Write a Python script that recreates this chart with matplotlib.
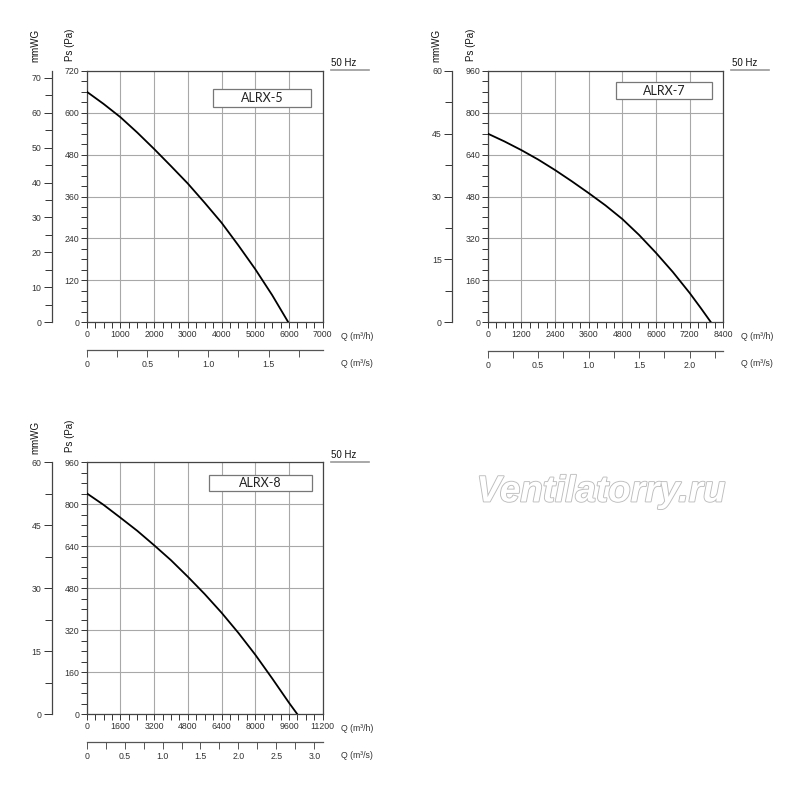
import matplotlib
matplotlib.use("Agg")
import matplotlib.pyplot as plt
from matplotlib.ticker import MultipleLocator, FixedLocator
from matplotlib.patches import Rectangle
import matplotlib.patheffects as pe

plt.rcParams['font.family'] = ['Liberation Sans', 'DejaVu Sans']

# ---------------- data ----------------
names = ["ALRX-5", "ALRX-7", "ALRX-8"]

q5 = [0, 500, 1000, 1500, 2000, 2500, 3000, 3500, 4000, 4500, 5000, 5500, 5980]
ps5 = [660, 625, 587, 543, 496, 447, 397, 342, 285, 220, 152, 78, 0]

q7 = [0, 600, 1200, 1800, 2400, 3000, 3600, 4200, 4800, 5400, 6000, 6600, 7200, 7600, 7960]
ps7 = [720, 690, 657, 621, 581, 538, 493, 446, 394, 333, 265, 192, 112, 54, 0]

q8 = [0, 800, 1600, 2400, 3200, 4000, 4800, 5600, 6400, 7200, 8000, 8800, 9600, 10000]
ps8 = [842, 798, 749, 699, 644, 587, 524, 458, 387, 310, 227, 137, 44, 0]

q_max = [7000, 8400, 11200]        # m3/h axis limit
q_step = [1000, 1200, 1600]
pa_max = [720, 960, 960]
pa_step = [120, 160, 160]
mm_max = [72, 60, 60]
mm_step = [10, 15, 15]
qs_labels = [[0, 0.5, 1.0, 1.5], [0, 0.5, 1.0, 1.5, 2.0], [0, 0.5, 1.0, 1.5, 2.0, 2.5, 3.0]]
freq_label = "50 Hz"
watermark = "Ventilatorry.ru"

W, H = 800, 789
fig = plt.figure(figsize=(W / 100, H / 100), dpi=100)
fig.patch.set_facecolor("white")


def fx(x):
    return x / W


def fy(y):
    return 1 - y / H


# layout (pixels): plot left, right, top, bottom, mmWG axis x, m3/s axis y, box
layouts = [
    dict(l=86.7, r=322.7, t=70.7, b=322.3, mm=51.7, qs=350.0,
         box=(0.535, 0.950, 0.856, 0.927)),
    dict(l=487.7, r=723.3, t=70.7, b=322.3, mm=452.3, qs=351.0,
         box=(0.543, 0.953, 0.886, 0.956)),
    dict(l=86.7, r=322.7, t=462.3, b=714.3, mm=51.7, qs=742.3,
         box=(0.519, 0.953, 0.885, 0.951)),
]
series = [(q5, ps5), (q7, ps7), (q8, ps8)]

tick_col = "#333333"
grid_col = "#a8a8a8"

for i, L in enumerate(layouts):
    left, bottom = fx(L['l']), fy(L['b'])
    width, height = (L['r'] - L['l']) / W, (L['b'] - L['t']) / H
    ax = fig.add_axes([left, bottom, width, height])
    q, ps = series[i]
    ax.plot(q, ps, color="black", lw=1.3, solid_joinstyle="round", zorder=3)
    ax.set_xlim(0, q_max[i])
    ax.set_ylim(0, pa_max[i])
    ax.xaxis.set_major_locator(MultipleLocator(q_step[i]))
    ax.xaxis.set_minor_locator(MultipleLocator(q_step[i] / 4))
    ax.yaxis.set_major_locator(MultipleLocator(pa_step[i]))
    ax.yaxis.set_minor_locator(MultipleLocator(pa_step[i] / 4))
    ax.grid(which="major", color=grid_col, lw=0.8)
    ax.set_axisbelow(True)
    ax.tick_params(which="both", direction="out", length=4, width=0.7,
                   color=tick_col, labelsize=6.3, labelcolor=tick_col, pad=1.5)
    for s in ax.spines.values():
        s.set_color("#444444")
        s.set_linewidth(0.9)

    # model box
    x0, x1, y0, y1 = L['box']
    ax.add_patch(Rectangle((x0, y0), x1 - x0, y1 - y0, transform=ax.transAxes,
                           facecolor="white", edgecolor="#777777", lw=0.9, zorder=4))
    ax.text((x0 + x1) / 2, (y0 + y1) / 2, names[i], transform=ax.transAxes,
            ha="center", va="center", fontsize=9, family=["Lato", "DejaVu Sans"],
            color="#222222", zorder=5)

    # mmWG axis
    axm = fig.add_axes([fx(L['mm']), bottom, 0.0001, height])
    axm.set_ylim(0, mm_max[i])
    axm.yaxis.set_major_locator(MultipleLocator(mm_step[i]))
    axm.yaxis.set_minor_locator(MultipleLocator(mm_step[i] / 2))
    axm.set_xticks([])
    for k in ("top", "right", "bottom"):
        axm.spines[k].set_visible(False)
    axm.spines["left"].set_color("#444444")
    axm.spines["left"].set_linewidth(0.9)
    axm.patch.set_alpha(0)
    axm.tick_params(which="major", direction="out", length=6, width=0.7,
                    color=tick_col, labelsize=6.3, labelcolor=tick_col, pad=1.5)
    axm.tick_params(which="minor", direction="out", length=5, width=0.7,
                    color=tick_col)

    # m3/s axis
    axs = fig.add_axes([left, fy(L['qs']), width, 0.0001])
    axs.set_xlim(0, q_max[i] / 3600)
    axs.xaxis.set_major_locator(FixedLocator(qs_labels[i]))
    axs.xaxis.set_minor_locator(MultipleLocator(0.25))
    axs.set_xticklabels(["0" if v == 0 else f"{v:.1f}" for v in qs_labels[i]])
    axs.set_yticks([])
    for k in ("top", "right", "left"):
        axs.spines[k].set_visible(False)
    axs.spines["bottom"].set_color("#555555")
    axs.spines["bottom"].set_linewidth(0.9)
    axs.patch.set_alpha(0)
    axs.tick_params(which="both", direction="out", length=5, width=0.7,
                    color="#555555", labelsize=6.3, labelcolor=tick_col, pad=2)

    # unit labels
    fig.text(fx(L['r'] + 18), fy(L['b'] + 14), "Q (m³/h)", fontsize=6.3,
             color=tick_col, ha="left", va="center")
    fig.text(fx(L['r'] + 18), fy(L['qs'] + 13), "Q (m³/s)", fontsize=6.3,
             color=tick_col, ha="left", va="center")
    fig.text(fx(L['l'] - 17), fy(L['t'] - 26), "Ps (Pa)", fontsize=7, rotation=90,
             ha="center", va="center", color="#111111")
    fig.text(fx(L['mm'] - 16), fy(L['t'] - 25), "mmWG", fontsize=7, rotation=90,
             ha="center", va="center", color="#111111")

    # 50 Hz label
    fig.text(fx(L['r'] + 8.5), fy(L['t'] - 7.5), freq_label, fontsize=7,
             ha="left", va="center", color="#111111")
    fig.add_artist(plt.Line2D([fx(L['r'] + 8), fx(L['r'] + 46)],
                              [fy(L['t'] - 0.5), fy(L['t'] - 0.5)],
                              color="#999999", lw=1.2))

# watermark
fig.text(fx(601), fy(492), watermark, fontsize=26.5, style="italic",
         weight="bold", color="white", ha="center", va="center",
         path_effects=[pe.withStroke(linewidth=1.3, foreground="#bdbdbd")])

fig.savefig("out.png", dpi=100, facecolor="white")
